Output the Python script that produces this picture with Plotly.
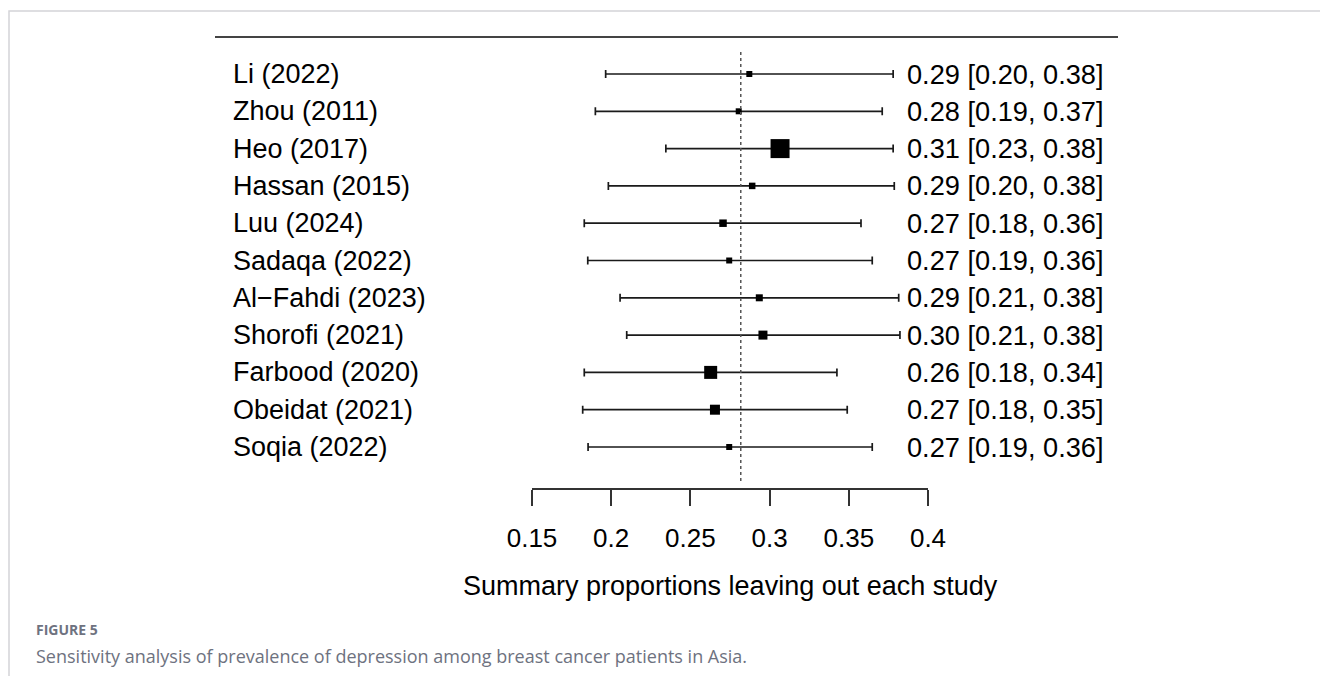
import plotly.graph_objects as go

studies = ["Li (2022)", "Zhou (2011)", "Heo (2017)", "Hassan (2015)", "Luu (2024)",
           "Sadaqa (2022)", "Al\u2212Fahdi (2023)", "Shorofi (2021)", "Farbood (2020)",
           "Obeidat (2021)", "Soqia (2022)"]
estimate = [0.2872, 0.2805, 0.3066, 0.2890, 0.2706, 0.2745, 0.2935, 0.2958, 0.2628, 0.2655, 0.2745]
lower = [0.1965, 0.1900, 0.2345, 0.1982, 0.1830, 0.1852, 0.2056, 0.2098, 0.1830, 0.1820, 0.1854]
upper = [0.3780, 0.3711, 0.3780, 0.3787, 0.3577, 0.3648, 0.3815, 0.3823, 0.3425, 0.3490, 0.3648]
weight_size = [6, 6, 19, 6.5, 7.5, 6, 7, 9, 13, 10, 6]
overall = 0.2818
tick_vals = [0.15, 0.2, 0.25, 0.3, 0.35, 0.4]
tick_text = ["0.15", "0.2", "0.25", "0.3", "0.35", "0.4"]
x_title = "Summary proportions leaving out each study"
fig_label = "FIGURE 5"
caption = "Sensitivity analysis of prevalence of depression among breast cancer patients in Asia."

W, H = 1328, 676
OFF = 8  # page body margin
FONT = "Liberation Sans, Arial, sans-serif"
CAP_FONT = "Open Sans, sans-serif"


def px_x(p):
    return (p - OFF) / W


def px_y(p):
    return 1 - (p - OFF) / H


ci_text = [f"{e:.2f} [{l:.2f}, {u:.2f}]" for e, l, u in zip(estimate, lower, upper)]

# row geometry (rows 0..10 between y=74 and y=447 px; axis line at 488 px, top rule at 37 px)
row_step = (447 - 74) / 10.0
y_range = [10 + (488 - 447) / row_step, -(74 - 37) / row_step]

fig = go.Figure()

# summary dotted line
fig.add_trace(go.Scatter(
    x=[overall, overall], y=[(52 - 74) / row_step, (483 - 74) / row_step], mode="lines",
    line=dict(color="#555555", width=1.5, dash="dot"),
    hoverinfo="skip", showlegend=False, cliponaxis=False, yaxis="y2"))

# CIs and point estimates
fig.add_trace(go.Scatter(
    x=estimate, y=studies, mode="markers",
    marker=dict(symbol="square", size=weight_size, color="black", opacity=1, line=dict(width=0)),
    error_x=dict(type="data", symmetric=False,
                 array=[u - e for u, e in zip(upper, estimate)],
                 arrayminus=[e - l for e, l in zip(estimate, lower)],
                 color="#1a1a1a", thickness=1.7, width=4),
    showlegend=False, cliponaxis=False))

annotations = []
for s, t in zip(studies, ci_text):
    annotations.append(dict(x=px_x(231), xref="paper", y=s, yref="y", text=s,
                            showarrow=False, xanchor="left", yanchor="middle",
                            font=dict(family=FONT, size=27, color="black")))
    annotations.append(dict(x=px_x(905), xref="paper", y=s, yref="y", text=t,
                            showarrow=False, xanchor="left", yanchor="middle",
                            font=dict(family=FONT, size=27.2, color="black")))

annotations.append(dict(x=0.275, xref="x", y=px_y(586), yref="paper", text=x_title,
                        showarrow=False, xanchor="center", yanchor="middle",
                        font=dict(family=FONT, size=27, color="black")))
annotations.append(dict(x=px_x(34), xref="paper", y=px_y(629), yref="paper", text=f"<b>{fig_label}</b>",
                        showarrow=False, xanchor="left", yanchor="middle",
                        font=dict(family=CAP_FONT, size=14, color="#6e7280")))
annotations.append(dict(x=px_x(34), xref="paper", y=px_y(656), yref="paper", text=caption,
                        showarrow=False, xanchor="left", yanchor="middle",
                        font=dict(family=CAP_FONT, size=18, color="#6e7280")))

shapes = [
    # outer frame
    dict(type="rect", xref="paper", yref="paper", x0=px_x(9), x1=px_x(1350), y0=px_y(720), y1=px_y(11),
         line=dict(color="#d4d4d8", width=1.5), fillcolor="rgba(0,0,0,0)", layer="below"),
    # top rule
    dict(type="line", xref="paper", yref="paper", x0=px_x(215), x1=px_x(1118), y0=px_y(37), y1=px_y(37),
         line=dict(color="#444444", width=2)),
]

fig.update_layout(
    width=W, height=H,
    margin=dict(l=0, r=0, t=0, b=0, pad=0, autoexpand=False),
    paper_bgcolor="white", plot_bgcolor="white",
    font=dict(family=FONT, size=26, color="black"),
    xaxis=dict(domain=[px_x(532), px_x(928)], range=[0.15, 0.4],
               tickvals=tick_vals, ticktext=tick_text, ticks="outside", ticklen=16,
               tickwidth=1.8, tickcolor="#333333", showline=True, linecolor="#333333", linewidth=1.8,
               showgrid=False, zeroline=False, tickfont=dict(family=FONT, size=26, color="black"),
               ticklabelstandoff=10, anchor="y", automargin=False),
    yaxis=dict(domain=[px_y(488), px_y(37)], type="category", categoryorder="array",
               categoryarray=studies, range=y_range, automargin=False,
               showticklabels=False, showgrid=False, zeroline=False, showline=False, ticks=""),
    yaxis2=dict(domain=[px_y(488), px_y(37)], overlaying="y", range=y_range, automargin=False,
                visible=False, showgrid=False, zeroline=False),
    annotations=annotations,
    shapes=shapes,
)

fig.write_html("out.html")
